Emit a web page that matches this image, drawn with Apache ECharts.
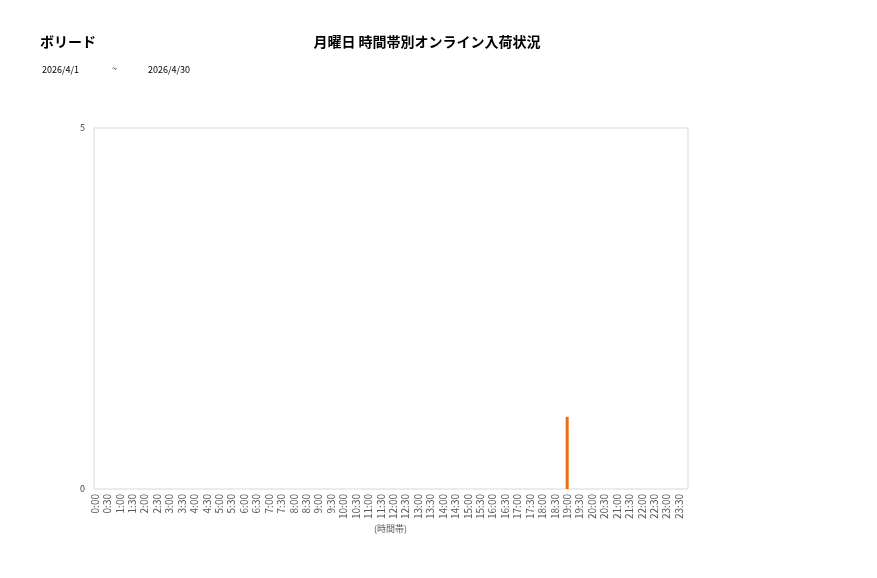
<!DOCTYPE html>
<html>
<head>
<meta charset="utf-8">
<script src="https://cdn.jsdelivr.net/npm/echarts@6/dist/echarts.min.js"></script>
<style>
html,body{margin:0;padding:0;background:#fff;}
#main{width:877px;height:578px;}
</style>
</head>
<body>
<div id="main"></div>
<script>
// data
var storeName = 'ボリード';
var chartTitle = '月曜日 時間帯別オンライン入荷状況';
var dateFrom = '2026/4/1';
var dateTo = '2026/4/30';
var hours = ['0:00','0:30','1:00','1:30','2:00','2:30','3:00','3:30','4:00','4:30',
	'5:00','5:30','6:00','6:30','7:00','7:30','8:00','8:30','9:00','9:30',
	'10:00','10:30','11:00','11:30','12:00','12:30','13:00','13:30','14:00','14:30',
	'15:00','15:30','16:00','16:30','17:00','17:30','18:00','18:30','19:00','19:30',
	'20:00','20:30','21:00','21:30','22:00','22:30','23:00','23:30'];
var counts = [0,0,0,0,0,0,0,0,0,0,
	0,0,0,0,0,0,0,0,0,0,
	0,0,0,0,0,0,0,0,0,0,
	0,0,0,0,0,0,0,0,1,0,
	0,0,0,0,0,0,0,0];
var yMin = 0;
var yMax = 5;

var font = '"Noto Sans CJK JP", "Noto Sans", sans-serif';
var chart = echarts.init(document.getElementById('main'));
chart.setOption({
	animation: false,
	backgroundColor: '#fff',
	title: [{
		text: storeName,
		left: 40, top: 35, padding: 0,
		textStyle: {fontFamily: font, fontSize: 14, fontWeight: 'bold', color: '#000'}
	}, {
		text: chartTitle,
		left: 427, top: 35, padding: 0, textAlign: 'center',
		textStyle: {fontFamily: font, fontSize: 14, fontWeight: 'bold', color: '#000'}
	}, {
		text: dateFrom,
		left: 42, top: 65, padding: 0,
		textStyle: {fontFamily: font, fontSize: 9, fontWeight: 'normal', color: '#000'}
	}, {
		text: '~',
		left: 112, top: 64, padding: 0,
		textStyle: {fontFamily: font, fontSize: 9, fontWeight: 'normal', color: '#000'}
	}, {
		text: dateTo,
		left: 148, top: 65, padding: 0,
		textStyle: {fontFamily: font, fontSize: 9, fontWeight: 'normal', color: '#000'}
	}],
	graphic: [{
		type: 'rect',
		shape: {x: 94, y: 128, width: 594, height: 361},
		style: {fill: null, stroke: '#d9d9d9', lineWidth: 1},
		silent: true,
		z: 0
	}, {
		type: 'text',
		left: 374, top: 524,
		style: {text: '(時間帯)', fontFamily: font, fontSize: 9, fill: '#595959'}
	}],
	grid: {left: 95, top: 128, width: 584, height: 361},
	xAxis: {
		type: 'category',
		data: hours,
		boundaryGap: false,
		axisLine: {show: false},
		axisTick: {show: false},
		splitLine: {show: false},
		axisLabel: {
			rotate: 90,
			interval: 0,
			margin: 5,
			fontFamily: font,
			fontSize: 10,
			color: '#595959'
		}
	},
	yAxis: {
		type: 'value',
		min: yMin,
		max: yMax,
		interval: 5,
		axisLine: {show: false},
		axisTick: {show: false},
		splitLine: {show: false},
		axisLabel: {margin: 10, fontFamily: font, fontSize: 9, color: '#404040'}
	},
	series: [{
		type: 'bar',
		data: counts,
		barWidth: 3,
		itemStyle: {color: '#f06c0e'}
	}]
});
</script>
</body>
</html>
